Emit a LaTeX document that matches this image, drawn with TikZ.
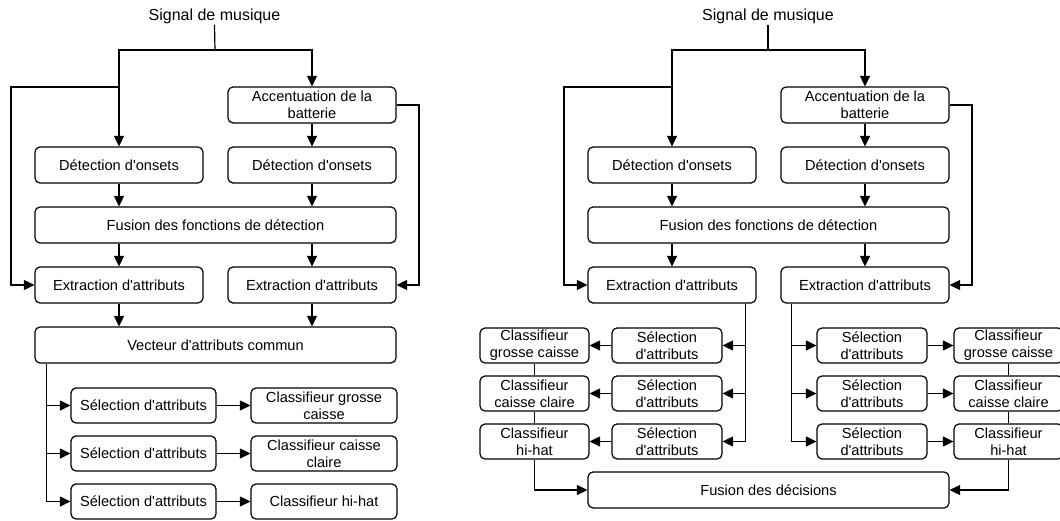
\documentclass[tikz,border=0pt]{standalone}
\usepackage{fontspec}
\setmainfont{Liberation Sans}[Ligatures=TeXOff]
\usetikzlibrary{arrows.meta,calc}
\begin{document}
\begin{tikzpicture}[x=1pt,y=-1pt,
  box/.style={draw, rounded corners=5pt, line width=1.2pt, inner sep=0pt, align=center,
    font=\fontsize{14.6}{16.8}\selectfont},
  wide/.style={box, minimum width=168pt, minimum height=36pt},
  full/.style={box, minimum width=361pt, minimum height=36pt},
  selbox/.style={box, minimum width=145pt, minimum height=35pt},
  clsbox/.style={box, minimum width=146pt, minimum height=35pt},
  smallbox/.style={box, minimum width=110pt, minimum height=35pt},
  sigtext/.style={inner sep=1pt, font=\fontsize{16}{19}\selectfont},
  ln/.style={line width=1.2pt},
  arr/.style={line width=1.2pt, -{Triangle[length=10.5pt,width=10pt]}},
]
\useasboundingbox (0,0) rectangle (1060,521);

% ---------------- Left diagram ----------------
\node[sigtext] (sig1) at (214.5,16) {Signal de musique};
\node[wide] (acc1) at (312,105) {Accentuation de la\\batterie};
\node[wide] (detL1) at (119,165) {Détection d'onsets};
\node[wide] (detR1) at (312,165) {Détection d'onsets};
\node[full] (fus1) at (215.5,225) {Fusion des fonctions de détection};
\node[wide] (extL1) at (119,285) {Extraction d'attributs};
\node[wide] (extR1) at (312,285) {Extraction d'attributs};
\node[full] (vec1) at (215.5,345) {Vecteur d'attributs commun};
\node[selbox] (selA1) at (143.5,405.5) {Sélection d'attributs};
\node[selbox] (selB1) at (143.5,453.5) {Sélection d'attributs};
\node[selbox] (selC1) at (143.5,501.5) {Sélection d'attributs};
\node[clsbox] (clsA1) at (324,405.5) {Classifieur grosse\\caisse};
\node[clsbox] (clsB1) at (324,453.5) {Classifieur caisse\\claire};
\node[clsbox] (clsC1) at (324,501.5) {Classifieur hi-hat};

\coordinate (j1) at (215,50);
\coordinate (bL1) at (119,87);
\coordinate (lL1) at (11,87);
\coordinate (rR1) at (419,105);
\draw[ln] (sig1.south) -- (j1);
\draw[arr] (j1) -| (detL1.north);
\draw[arr] (j1) -| (acc1.north);
\draw[arr] (bL1) -- (lL1) |- (extL1.west);
\draw[arr] (acc1.east) -- (rR1) |- (extR1.east);
\draw[arr] (acc1.south) -- (detR1.north);
\draw[arr] (detL1.south) -- (detL1.south |- fus1.north);
\draw[arr] (detR1.south) -- (detR1.south |- fus1.north);
\draw[arr] (extL1.north |- fus1.south) -- (extL1.north);
\draw[arr] (extR1.north |- fus1.south) -- (extR1.north);
\draw[arr] (extL1.south) -- (extL1.south |- vec1.north);
\draw[arr] (extR1.south) -- (extR1.south |- vec1.north);
\coordinate (v1) at ($(vec1.south west)+(12,0)$);
\draw[arr] (v1) |- (selC1.west);
\draw[arr] (v1 |- selA1.west) -- (selA1.west);
\draw[arr] (v1 |- selB1.west) -- (selB1.west);
\draw[arr] (selA1.east) -- (clsA1.west);
\draw[arr] (selB1.east) -- (clsB1.west);
\draw[arr] (selC1.east) -- (clsC1.west);

% ---------------- Right diagram ----------------
\node[sigtext] (sig2) at (768,16) {Signal de musique};
\node[wide] (acc2) at (865,105) {Accentuation de la\\batterie};
\node[wide] (detL2) at (672,165) {Détection d'onsets};
\node[wide] (detR2) at (865,165) {Détection d'onsets};
\node[full] (fus2) at (768.5,225) {Fusion des fonctions de détection};
\node[wide] (extL2) at (672,285) {Extraction d'attributs};
\node[wide] (extR2) at (865,285) {Extraction d'attributs};
\node[smallbox] (selA2) at (667,345.5) {Sélection\\d'attributs};
\node[smallbox] (selB2) at (667,393.5) {Sélection\\d'attributs};
\node[smallbox] (selC2) at (667,441.5) {Sélection\\d'attributs};
\node[smallbox, minimum width=109pt] (clsA2) at (534.5,345.5) {Classifieur\\grosse caisse};
\node[smallbox, minimum width=109pt] (clsB2) at (534.5,393.5) {Classifieur\\caisse claire};
\node[smallbox, minimum width=109pt] (clsC2) at (534.5,441.5) {Classifieur\\hi-hat};
\node[smallbox] (selD2) at (872,345.5) {Sélection\\d'attributs};
\node[smallbox] (selE2) at (872,393.5) {Sélection\\d'attributs};
\node[smallbox] (selF2) at (872,441.5) {Sélection\\d'attributs};
\node[smallbox, minimum width=109pt] (clsD2) at (1008.5,345.5) {Classifieur\\grosse caisse};
\node[smallbox, minimum width=109pt] (clsE2) at (1008.5,393.5) {Classifieur\\caisse claire};
\node[smallbox, minimum width=109pt] (clsF2) at (1008.5,441.5) {Classifieur\\hi-hat};
\node[full] (fd) at (768.5,490) {Fusion des décisions};

\coordinate (j2) at (768,50);
\coordinate (bL2) at (672,87);
\coordinate (lL2) at (564,87);
\coordinate (rR2) at (972,105);
\draw[ln] (sig2.south) -- (j2);
\draw[arr] (j2) -| (detL2.north);
\draw[arr] (j2) -| (acc2.north);
\draw[arr] (bL2) -- (lL2) |- (extL2.west);
\draw[arr] (acc2.east) -- (rR2) |- (extR2.east);
\draw[arr] (acc2.south) -- (detR2.north);
\draw[arr] (detL2.south) -- (detL2.south |- fus2.north);
\draw[arr] (detR2.south) -- (detR2.south |- fus2.north);
\draw[arr] (extL2.north |- fus2.south) -- (extL2.north);
\draw[arr] (extR2.north |- fus2.south) -- (extR2.north);

\coordinate (vL2) at ($(extL2.south east)+(-11,0)$);
\coordinate (vR2) at ($(extR2.south west)+(11,0)$);
\draw[arr] (vL2) |- (selC2.east);
\draw[arr] (vL2 |- selA2.east) -- (selA2.east);
\draw[arr] (vL2 |- selB2.east) -- (selB2.east);
\draw[arr] (vR2) |- (selF2.west);
\draw[arr] (vR2 |- selD2.west) -- (selD2.west);
\draw[arr] (vR2 |- selE2.west) -- (selE2.west);
\draw[arr] (selA2.west) -- (clsA2.east);
\draw[arr] (selB2.west) -- (clsB2.east);
\draw[arr] (selC2.west) -- (clsC2.east);
\draw[arr] (selD2.east) -- (clsD2.west);
\draw[arr] (selE2.east) -- (clsE2.west);
\draw[arr] (selF2.east) -- (clsF2.west);
\draw[ln] (clsA2.south) -- (clsB2.north);
\draw[ln] (clsB2.south) -- (clsC2.north);
\draw[ln] (clsD2.south) -- (clsE2.north);
\draw[ln] (clsE2.south) -- (clsF2.north);
\draw[arr] (clsC2.south) |- (fd.west);
\draw[arr] (clsF2.south) |- (fd.east);
\end{tikzpicture}
\end{document}
